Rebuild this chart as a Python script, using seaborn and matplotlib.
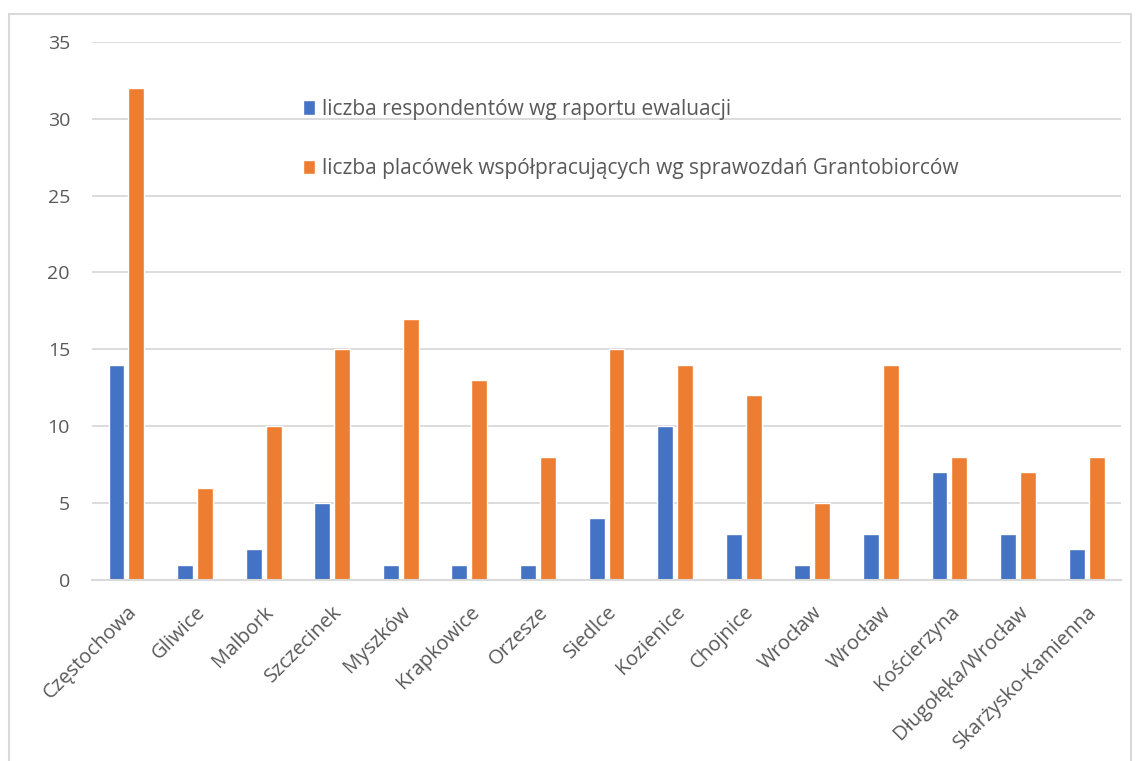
import pandas as pd
import matplotlib.pyplot as plt
import matplotlib.patches as patches
import seaborn as sns

# dane
miasta = ['Częstochowa', 'Gliwice', 'Malbork', 'Szczecinek', 'Myszków', 'Krapkowice',
          'Orzesze', 'Siedlce', 'Kozienice', 'Chojnice', 'Wrocław', 'Wrocław',
          'Kościerzyna', 'Długołęka/Wrocław', 'Skarżysko-Kamienna']
respondenci = [14, 1, 2, 5, 1, 1, 1, 4, 10, 3, 1, 3, 7, 3, 2]
placowki = [32, 6, 10, 15, 17, 13, 8, 15, 14, 12, 5, 14, 8, 7, 8]

seria1 = 'liczba respondentów wg raportu ewaluacji'
seria2 = 'liczba placówek współpracujących wg sprawozdań Grantobiorców'

# long format; numer pozycji zamiast nazwy, bo Wrocław występuje dwa razy
df = pd.DataFrame({
    'poz': list(range(len(miasta))) * 2,
    'liczba': respondenci + placowki,
    'seria': [seria1] * len(miasta) + [seria2] * len(miasta),
})

sns.set_theme(style='white')
plt.rcParams['font.family'] = ['Open Sans', 'DejaVu Sans']

fig = plt.figure(figsize=(11.38, 7.61), dpi=100)
ax = fig.add_axes([0.081, 0.238, 0.904, 0.707])

sns.barplot(data=df, x='poz', y='liczba', hue='seria',
            palette=['#4472C4', '#ED7D31'], width=0.58, gap=0.2,
            saturation=1, ax=ax)

ax.set_ylim(0, 35)
ax.set_yticks(range(0, 36, 5))
ax.set_xlim(-0.5, len(miasta) - 0.5)
ax.yaxis.grid(True, color='#D9D9D9', linewidth=1.3)
ax.set_axisbelow(True)
for s in ['top', 'right', 'left']:
    ax.spines[s].set_visible(False)
ax.spines['bottom'].set_color('#D9D9D9')
ax.spines['bottom'].set_linewidth(1.5)

ax.set_xticks(range(len(miasta)))
ax.set_xticklabels(miasta, rotation=45, ha='right', rotation_mode='anchor')
ax.tick_params(axis='x', length=0, pad=16, labelsize=14.5, labelcolor='#595959')
ax.tick_params(axis='y', length=0, pad=16, labelsize=14, labelcolor='#595959')
ax.set_xlabel('')
ax.set_ylabel('')

ax.legend(title=None, frameon=False, loc='upper left',
          bbox_to_anchor=(0.257, 0.884), bbox_transform=fig.transFigure,
          fontsize=15, labelcolor='#595959', handlelength=0.6, handleheight=0.7,
          handletextpad=0.3, labelspacing=1.85, borderpad=0)

# ramka wokół wykresu jak w Excelu
fig.patches.append(patches.Rectangle((9 / 1138, -0.05), 1122 / 1138, 1.05 - 14 / 761,
                                     transform=fig.transFigure, fill=False,
                                     edgecolor='#D9D9D9', linewidth=1.5))

fig.savefig('out.png', dpi=100)
